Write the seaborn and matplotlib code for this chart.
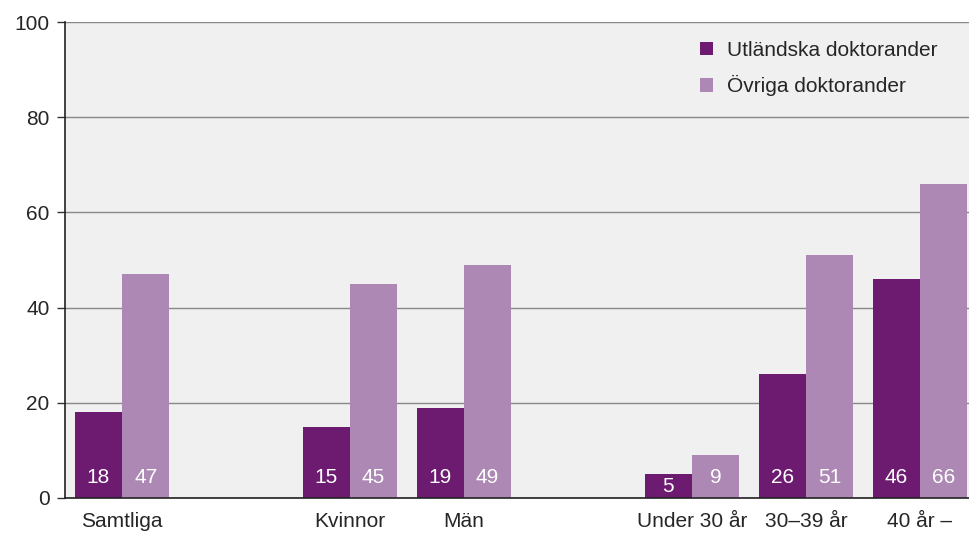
import numpy as np
import pandas as pd
import matplotlib
matplotlib.use("Agg")
import matplotlib.pyplot as plt
import seaborn as sns

# category slots (blank slots are empty gaps in the chart)
categories = ["Samtliga", "gap1", "Kvinnor", "Män", "gap2", "Under 30 år", "30–39 år", "40 år –"]
tick_labels = ["Samtliga", "", "Kvinnor", "Män", "", "Under 30 år", "30–39 år", "40 år –"]
utlandska = [18, np.nan, 15, 19, np.nan, 5, 26, 46]
ovriga = [47, np.nan, 45, 49, np.nan, 9, 51, 66]
series = ["Utländska doktorander", "Övriga doktorander"]
colors = ["#6d1a71", "#ad88b4"]

df = pd.DataFrame({
    "kategori": categories * 2,
    "grupp": [series[0]] * len(categories) + [series[1]] * len(categories),
    "andel": utlandska + ovriga,
})

sns.set_style("white")
plt.rcParams["font.family"] = ["Liberation Sans", "DejaVu Sans"]

fig = plt.figure(figsize=(9.7, 5.33), dpi=100)
ax = fig.add_axes([0.067, 0.0657, 0.933, 0.893])
ax.set_facecolor("#f0f0f0")

sns.barplot(
    data=df.dropna(), x="kategori", y="andel", hue="grupp",
    order=categories, hue_order=series, palette=colors,
    width=0.83, gap=0, saturation=1, errorbar=None, linewidth=0, ax=ax,
)

# white value labels at the bottom of each bar
for container in ax.containers:
    for bar in container:
        h = bar.get_height()
        if np.isnan(h):
            continue
        y = 4.2 if h > 7 else h / 2
        ax.text(bar.get_x() + bar.get_width() / 2, y, f"{h:.0f}",
                ha="center", va="center", color="white", fontsize=15)

ax.set_ylim(0, 100)
ax.set_xlim(-0.5, 7.44)
ax.set_yticks(range(0, 101, 20))
ax.yaxis.grid(True, color="#888888", linewidth=1)
ax.set_axisbelow(True)
ax.set_xticks(range(len(categories)))
ax.set_xticklabels(tick_labels)
ax.tick_params(axis="x", length=0, labelsize=15, pad=10)
ax.tick_params(axis="y", length=6, width=1, color="#333333", labelsize=15, pad=5, left=True)
ax.set_xlabel("")
ax.set_ylabel("")

for side in ["top", "right"]:
    ax.spines[side].set_visible(False)
for side in ["left", "bottom"]:
    ax.spines[side].set_color("#222222")
    ax.spines[side].set_linewidth(1.2)

handles, labels = ax.get_legend_handles_labels()
ax.legend(handles, labels, loc="upper right", bbox_to_anchor=(0.985, 1.0),
          frameon=False, fontsize=15, handlelength=0.6, handleheight=0.6,
          handletextpad=0.7, labelspacing=0.75)

fig.savefig("out.png", dpi=100)
